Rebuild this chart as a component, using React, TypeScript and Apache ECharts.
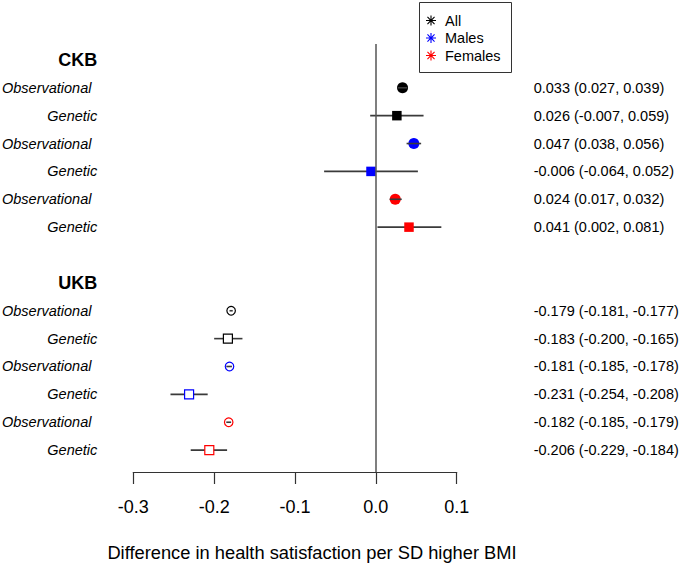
import React, { useEffect, useRef } from "react";
import * as echarts from "echarts";

// ---- data ----
const cohorts = ["CKB", "UKB"];
const rowGroups = ["All", "All", "Males", "Males", "Females", "Females"];
const rowMethods = ["Observational", "Genetic", "Observational", "Genetic", "Observational", "Genetic"];
const ckbEst = [0.033, 0.026, 0.047, -0.006, 0.024, 0.041];
const ckbLow = [0.027, -0.007, 0.038, -0.064, 0.017, 0.002];
const ckbHigh = [0.039, 0.059, 0.056, 0.052, 0.032, 0.081];
const ukbEst = [-0.179, -0.183, -0.181, -0.231, -0.182, -0.206];
const ukbLow = [-0.181, -0.2, -0.185, -0.254, -0.185, -0.229];
const ukbHigh = [-0.177, -0.165, -0.178, -0.208, -0.179, -0.184];
const xTicks = [-0.3, -0.2, -0.1, 0.0, 0.1];
const legendNames = ["All", "Males", "Females"];
const xTitle = "Difference in health satisfaction per SD higher BMI";

// ---- styling ----
const groupColors: Record<string, string> = { All: "#000000", Males: "#0000FF", Females: "#FF0000" };
const FONT = "Liberation Sans";

function starIcon(): string {
  const L = 10, w = 1.1, c = 10;
  const r = w / Math.sin(Math.PI / 8);
  const pts: string[] = [];
  for (let k = 0; k < 8; k++) {
    const t = (k * Math.PI) / 4;
    const ti = t - Math.PI / 8;
    pts.push(`${(c + r * Math.cos(ti)).toFixed(3)} ${(c + r * Math.sin(ti)).toFixed(3)}`);
    const dx = Math.cos(t), dy = Math.sin(t);
    const px = -Math.sin(t), py = Math.cos(t);
    pts.push(`${(c + L * dx - w * px).toFixed(3)} ${(c + L * dy - w * py).toFixed(3)}`);
    pts.push(`${(c + L * dx + w * px).toFixed(3)} ${(c + L * dy + w * py).toFixed(3)}`);
  }
  return "path://M" + pts.join(" L") + " Z";
}

const est = [ckbEst, ukbEst];
const low = [ckbLow, ukbLow];
const high = [ckbHigh, ukbHigh];

const rowY = (c: number, i: number) => c * 8 + 1 + i;

export default function App() {
  const ref = useRef<HTMLDivElement>(null);
  useEffect(() => {
    if (!ref.current) return;
    const chart = echarts.init(ref.current, undefined, { renderer: "svg" });
    const xMin = xTicks[0];
    const xMax = xTicks[xTicks.length - 1];

    const scatterSeries: any[] = [];
    legendNames.forEach((g) => {
      ["Observational", "Genetic"].forEach((m) => {
        const data: any[] = [];
        cohorts.forEach((_, c) => {
          rowGroups.forEach((rg, i) => {
            if (rg !== g || rowMethods[i] !== m) return;
            const filled = c === 0;
            const isCircle = m === "Observational";
            data.push({
              value: [est[c][i], rowY(c, i)],
              symbol: isCircle ? "circle" : "rect",
              symbolSize: isCircle ? (filled ? 11 : 8.5) : filled ? 9.5 : 9,
              itemStyle: filled
                ? { color: groupColors[g], borderWidth: 0, opacity: 1 }
                : { color: "#ffffff", borderColor: groupColors[g], borderWidth: 1.2, opacity: 1 },
            });
          });
        });
        scatterSeries.push({
          type: "scatter",
          name: g,
          data,
          itemStyle: { opacity: 1 },
          z: m === "Observational" ? 2 : 4,
          silent: true,
          clip: false,
        });
      });
    });

    const ciData: any[] = [];
    cohorts.forEach((_, c) => {
      rowGroups.forEach((_, i) => {
        ciData.push([low[c][i], high[c][i], rowY(c, i)]);
      });
    });

    const labelData: any[] = [];
    const labelInfo: { text: string; kind: string }[] = [];
    cohorts.forEach((name, c) => {
      labelData.push([xMin, c * 8]);
      labelInfo.push({ text: name, kind: "header" });
      rowMethods.forEach((m, i) => {
        labelData.push([xMin, rowY(c, i)]);
        labelInfo.push({ text: m, kind: m === "Observational" ? "obs" : "gen" });
      });
    });
    const valueData: any[] = [];
    const valueText: string[] = [];
    cohorts.forEach((_, c) => {
      rowGroups.forEach((_, i) => {
        valueData.push([xMax, rowY(c, i)]);
        valueText.push(
          `${est[c][i].toFixed(3)} (${low[c][i].toFixed(3)}, ${high[c][i].toFixed(3)})`
        );
      });
    });

    const option: any = {
      animation: false,
      backgroundColor: "#ffffff",
      textStyle: { fontFamily: FONT },
      grid: { left: 133.3, top: 44, width: 323.4, height: 430, containLabel: false },
      graphic: [
        {
          type: "rect",
          shape: { x: 419.5, y: 2.5, width: 92, height: 70 },
          style: { fill: "none", stroke: "#333333", lineWidth: 1 },
          silent: true,
        },
      ],
      legend: {
        orient: "vertical",
        left: 419,
        top: 3,
        padding: [10, 9, 10, 7],
        itemWidth: 14,
        itemHeight: 10,
        itemGap: 2.5,
        borderWidth: 0,
        selectedMode: false,
        textStyle: { fontSize: 14.5, lineHeight: 14, color: "#000", fontFamily: FONT, padding: [0, 0, 0, 2] },
        data: legendNames.map((n) => ({ name: n, icon: starIcon(), itemStyle: { color: groupColors[n], borderWidth: 0 } })),
      },
      xAxis: {
        type: "value",
        min: xMin,
        max: xMax,
        interval: 0.1,
        name: xTitle,
        nameLocation: "middle",
        nameGap: 71,
        nameTextStyle: { fontSize: 18.3, color: "#000", fontFamily: FONT, padding: [0, 0, 0, 34] },
        axisLine: { show: true, onZero: false, lineStyle: { color: "#333", width: 1.2 } },
        axisTick: { show: true, inside: false, length: 12, lineStyle: { color: "#333", width: 1.2 } },
        axisLabel: {
          fontSize: 18,
          color: "#000",
          margin: 26,
          fontFamily: FONT,
          showMinLabel: true,
          showMaxLabel: true,
          formatter: (v: number) => v.toFixed(1),
        },
        splitLine: { show: false },
      },
      yAxis: {
        type: "value",
        inverse: true,
        min: -16 / 28,
        max: 414 / 28,
        show: false,
        splitLine: { show: false },
      },
      series: [
        ...scatterSeries,
        {
          type: "custom",
          name: "ci",
          z: 3,
          silent: true,
          data: ciData,
          encode: { x: [0, 1], y: 2 },
          renderItem: (params: any, api: any) => {
            const p1 = api.coord([api.value(0), api.value(2)]);
            const p2 = api.coord([api.value(1), api.value(2)]);
            return {
              type: "line",
              shape: { x1: p1[0], y1: p1[1], x2: p2[0], y2: p2[1] },
              style: { stroke: "#3a3a3a", lineWidth: 1.6 },
            };
          },
          markLine: {
            silent: true,
            symbol: "none",
            label: { show: false },
            lineStyle: { color: "#555555", width: 1.5, type: "solid" },
            data: [{ xAxis: 0 }],
          },
        },
        {
          type: "custom",
          name: "rowLabels",
          silent: true,
          clip: false,
          data: labelData,
          encode: { x: 0, y: 1 },
          renderItem: (params: any, api: any) => {
            const p = api.coord([api.value(0), api.value(1)]);
            const info = labelInfo[params.dataIndex];
            const header = info.kind === "header";
            const obs = info.kind === "obs";
            return {
              type: "text",
              x: obs ? p[0] - 131.3 : p[0] - 36,
              y: p[1],
              style: {
                text: info.text,
                align: obs ? "left" : "right",
                verticalAlign: "middle",
                fontFamily: FONT,
                fontSize: header ? 18 : 14.5,
                fontWeight: header ? "bold" : "normal",
                fontStyle: header ? "normal" : "italic",
                fill: "#000",
              },
            };
          },
        },
        {
          type: "custom",
          name: "valueLabels",
          silent: true,
          clip: false,
          data: valueData,
          encode: { x: 0, y: 1 },
          renderItem: (params: any, api: any) => {
            const p = api.coord([api.value(0), api.value(1)]);
            return {
              type: "text",
              x: p[0] + 77,
              y: p[1],
              style: {
                text: valueText[params.dataIndex],
                align: "left",
                verticalAlign: "middle",
                fontFamily: FONT,
                fontSize: 14.5,
                fill: "#000",
              },
            };
          },
        },
      ],
    };
    chart.setOption(option);
    return () => chart.dispose();
  }, []);
  return (
    <div
      ref={ref}
      style={{ position: "absolute", left: 0, top: 0, width: 685, height: 566 }}
    />
  );
}
